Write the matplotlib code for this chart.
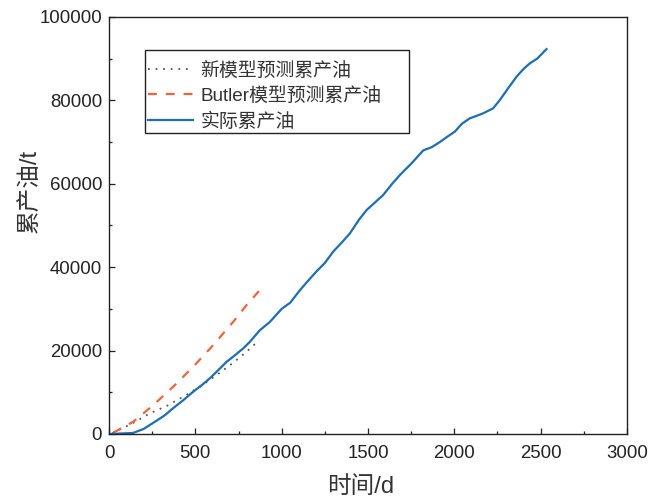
import matplotlib
matplotlib.use("Agg")
import matplotlib.pyplot as plt
from matplotlib.ticker import MultipleLocator
from matplotlib.patches import Rectangle

plt.rcParams['font.family'] = ['Liberation Sans', 'Noto Sans CJK SC', 'DejaVu Sans']

# actual cumulative oil
actual_x = [0, 60, 139, 200, 257, 320, 372, 430, 488, 540, 585, 630, 681, 730, 778, 816,
            874, 930, 1000, 1050, 1106, 1150, 1202, 1250, 1300, 1350, 1395, 1450, 1492,
            1540, 1588, 1640, 1685, 1750, 1820, 1870, 1916, 1960, 2003, 2044, 2090, 2130,
            2167, 2225, 2264, 2310, 2361, 2400, 2438, 2480, 2534]
actual_y = [0, 100, 240, 1200, 2700, 4400, 6200, 8100, 10150, 11800, 13400, 15200, 17300,
            18900, 20550, 22100, 24900, 26800, 30000, 31500, 34500, 36600, 39000, 41000,
            43800, 46000, 48100, 51500, 53700, 55500, 57300, 60000, 62100, 64800, 68000,
            68800, 70000, 71300, 72500, 74400, 75700, 76300, 76900, 78100, 80100, 82800,
            85700, 87500, 88900, 90000, 92300]

# new model prediction
new_x = [20, 139, 237, 334, 430, 527, 624, 720, 797, 870]
new_y = [200, 2640, 4960, 6710, 8950, 11350, 14150, 17100, 19740, 22500]

# Butler model prediction
butler_x = [25, 141, 257, 372, 488, 604, 720, 797, 874]
butler_y = [320, 2950, 6950, 11350, 16140, 21340, 26930, 30930, 34530]

labels = ['新模型预测累产油', 'Butler模型预测累产油', '实际累产油']

fig = plt.figure(figsize=(6.62, 4.97), dpi=100)
ax = fig.add_axes([0.1647, 0.1268, 0.947 - 0.1647, 0.9658 - 0.1268])

ax.plot(new_x, new_y, linestyle=(0, (1, 3.2)), color='#555555', linewidth=1.3, label=labels[0])
ax.plot(butler_x, butler_y, linestyle=(0, (4, 4)), color='#f0643c', linewidth=1.6, label=labels[1])
ax.plot(actual_x, actual_y, linestyle='-', color='#1f6db2', linewidth=1.6, label=labels[2])

ax.set_xlim(0, 3000)
ax.set_ylim(0, 100000)
ax.xaxis.set_major_locator(MultipleLocator(500))
ax.xaxis.set_minor_locator(MultipleLocator(250))
ax.yaxis.set_major_locator(MultipleLocator(20000))
ax.yaxis.set_minor_locator(MultipleLocator(10000))
ax.tick_params(which='both', direction='in', top=False, right=False, labelsize=13.4, colors='#222222')
ax.tick_params(which='major', length=4.5, width=0.9)
ax.tick_params(which='minor', length=2.5, width=0.9)
ax.tick_params(axis='x', which='major', pad=8)
ax.tick_params(axis='y', which='major', pad=5)
for s in ax.spines.values():
    s.set_linewidth(1.0)
    s.set_color('#222222')

ax.set_xlabel('时间/d', fontsize=17, color='#333333', labelpad=10, x=0.486)
ax.set_ylabel('累产油/t', fontsize=17, color='#333333', labelpad=-1, y=0.583)

leg = ax.legend(loc='upper left', bbox_to_anchor=(0.0637, 0.907), fontsize=13.6,
                frameon=False, handlelength=2.4,
                labelspacing=0.4, borderpad=0.3, handletextpad=0.4, borderaxespad=0)
for t in leg.get_texts():
    t.set_color('#333333')

# legend frame
ax.add_patch(Rectangle((0.0695, 0.722), 0.579 - 0.0695, 0.921 - 0.722, transform=ax.transAxes,
                       fill=False, edgecolor='#222222', linewidth=1.0, zorder=6))

fig.savefig('out.png', dpi=100)
